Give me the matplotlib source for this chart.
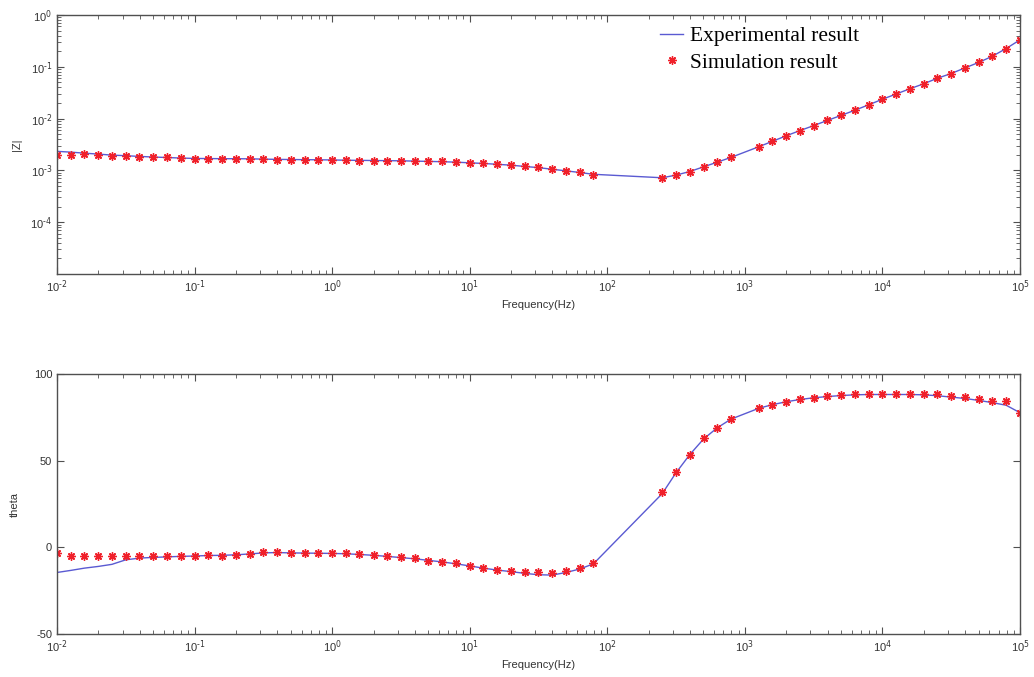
import math

import matplotlib

matplotlib.use("Agg")
import matplotlib.pyplot as plt
from matplotlib.ticker import LogLocator, NullFormatter, FixedLocator, FuncFormatter


# frequency points (Hz), 10 per decade with a few gaps
FREQ = [
    0.01, 0.0126, 0.0158, 0.02, 0.0251, 0.0316, 0.0398, 0.0501, 0.0631, 0.0794,
    0.1, 0.126, 0.158, 0.2, 0.251, 0.316, 0.398, 0.501, 0.631, 0.794,
    1, 1.26, 1.58, 2, 2.51, 3.16, 3.98, 5.01, 6.31, 7.94,
    10, 12.6, 15.8, 20, 25.1, 31.6, 39.8, 50.1, 63.1, 79.4,
    251, 316, 398, 501, 631, 794,
    1260, 1580, 2000, 2510, 3160, 3980, 5010, 6310, 7940,
    10000, 12600, 15800, 20000, 25100, 31600, 39800, 50100, 63100, 79400, 100000,
]
X_DECADES = [1e-2, 1e-1, 1e0, 1e1, 1e2, 1e3, 1e4, 1e5]
Z_DECADES = [1e-4, 1e-3, 1e-2, 1e-1, 1e0]
THETA_TICKS = [-50, 0, 50, 100]

# |Z| in units of 1e-3
Z_SIM_MILLI = [
    2.01, 1.95, 2.10, 2.01, 1.92, 1.92, 1.84, 1.78, 1.78, 1.73,
    1.68, 1.68, 1.68, 1.68, 1.68, 1.63, 1.61, 1.61, 1.61, 1.61,
    1.61, 1.57, 1.55, 1.54, 1.54, 1.53, 1.50, 1.49, 1.52, 1.43,
    1.39, 1.38, 1.32, 1.27, 1.19, 1.14, 1.04, 0.99, 0.91, 0.83,
    0.71, 0.80, 0.94, 1.17, 1.43, 1.78,
    2.82, 3.63, 4.68, 5.83, 7.29, 9.23, 11.5, 14.4, 18.5,
    23.8, 29.7, 37.7, 47.2, 60.5, 73.6, 96.6, 121, 163, 225, 325,
]
Z_EXP_MILLI = [
    2.33, 2.25, 2.15, 2.06, 1.97, 1.92, 1.86, 1.81, 1.77, 1.73,
    1.70, 1.69, 1.68, 1.68, 1.67, 1.65, 1.63, 1.62, 1.61, 1.60,
    1.59, 1.57, 1.56, 1.55, 1.54, 1.53, 1.51, 1.49, 1.47, 1.44,
    1.40, 1.36, 1.31, 1.26, 1.19, 1.13, 1.05, 0.98, 0.91, 0.84,
    0.72, 0.81, 0.95, 1.17, 1.44, 1.78,
    2.85, 3.62, 4.65, 5.85, 7.30, 9.20, 11.5, 14.5, 18.4,
    23.6, 29.8, 37.5, 47.0, 60.0, 74.0, 95.0, 121, 160, 225, 330,
]

# phase angle (deg)
THETA_SIM = [
    -3.0, -4.8, -4.8, -4.8, -4.8, -4.8, -5.2, -5.2, -5.2, -5.2,
    -4.8, -4.5, -4.8, -4.5, -3.7, -2.9, -2.9, -3.3, -3.3, -3.3,
    -3.3, -3.5, -3.9, -4.5, -5.2, -5.8, -6.4, -7.7, -8.3, -9.3,
    -10.6, -12.2, -13.1, -13.5, -14.5, -14.5, -15.0, -13.5, -12.2, -9.1,
    31.8, 43.4, 53.0, 63.3, 69.0, 73.8,
    80.4, 82.3, 83.9, 85.4, 86.2, 87.2, 87.7, 88.3, 88.3,
    88.3, 88.3, 88.3, 88.3, 88.3, 87.4, 86.8, 85.4, 84.5, 84.5, 77.7,
]
THETA_EXP = [
    -14.5, -13.3, -12.0, -11.0, -9.8, -7.2, -6.2, -5.8, -5.5, -5.2,
    -5.0, -4.7, -4.6, -4.3, -3.8, -3.2, -3.0, -3.2, -3.3, -3.4,
    -3.5, -3.7, -4.1, -4.6, -5.2, -5.9, -6.6, -7.5, -8.4, -9.5,
    -10.7, -12.0, -13.1, -14.0, -15.0, -15.8, -16.0, -14.5, -12.5, -9.5,
    31.0, 43.0, 53.5, 62.5, 69.0, 74.0,
    80.2, 82.3, 84.0, 85.3, 86.3, 87.0, 87.6, 88.0, 88.2,
    88.2, 88.2, 88.2, 88.0, 87.5, 86.7, 85.9, 84.8, 83.5, 82.0, 77.7,
]

LINE_COLOR = "#5a5ad2"
MARKER_COLOR = "#f0202a"
FRAME_COLOR = "#505050"
TEXT_COLOR = "#333333"
ASTERISK = (8, 2, 0)


def decade_label(value, pos):
    # matlab style 10^-2 with a plain hyphen
    exponent = int(round(math.log10(value)))
    return r"$10^{\text{%d}}$" % exponent


def style_axes(ax):
    for spine in ax.spines.values():
        spine.set_color(FRAME_COLOR)
        spine.set_linewidth(1.0)
    ax.tick_params(which="both", direction="in", top=True, right=True,
                   colors=FRAME_COLOR, labelcolor=TEXT_COLOR, labelsize=8)
    ax.tick_params(which="major", length=5)
    ax.tick_params(which="minor", length=3)
    ax.set_xscale("log")
    ax.set_xlim(X_DECADES[0], X_DECADES[-1])
    ax.xaxis.set_major_locator(FixedLocator(X_DECADES))
    ax.xaxis.set_major_formatter(FuncFormatter(decade_label))
    ax.xaxis.set_minor_locator(LogLocator(base=10, subs=range(2, 10), numticks=20))
    ax.xaxis.set_minor_formatter(NullFormatter())
    ax.set_xlabel("Frequency(Hz)", fontsize=8, color=TEXT_COLOR, labelpad=3)


def draw(ax, y_exp, y_sim):
    ax.plot(FREQ, y_exp, color=LINE_COLOR, linewidth=1.0,
            label="Experimental result")
    ax.plot(FREQ, y_sim, linestyle="none", marker=ASTERISK,
            markersize=6, markeredgewidth=1.0, color=MARKER_COLOR,
            label="Simulation result")


def main():
    plt.rcParams["font.family"] = ["Liberation Sans", "DejaVu Sans"]
    plt.rcParams["mathtext.default"] = "regular"
    plt.rcParams["axes.unicode_minus"] = False

    fig = plt.figure(figsize=(10.34, 6.77), dpi=100)
    ax1 = fig.add_axes([0.0551, 0.5953, 0.9313, 0.3826])
    ax2 = fig.add_axes([0.0551, 0.0635, 0.9313, 0.3840])

    # top: |Z|
    z_sim = [v * 1e-3 for v in Z_SIM_MILLI]
    z_exp = [v * 1e-3 for v in Z_EXP_MILLI]
    style_axes(ax1)
    draw(ax1, z_exp, z_sim)
    ax1.set_yscale("log")
    ax1.set_ylim(1e-5, 1e0)
    ax1.yaxis.set_major_locator(FixedLocator(Z_DECADES))
    ax1.yaxis.set_major_formatter(FuncFormatter(decade_label))
    ax1.yaxis.set_minor_locator(LogLocator(base=10, subs=range(2, 10), numticks=20))
    ax1.yaxis.set_minor_formatter(NullFormatter())
    ax1.set_ylabel("|Z|", fontsize=8, color=TEXT_COLOR, labelpad=6)
    ax1.legend(loc="upper left", bbox_to_anchor=(0.617, 0.99), frameon=False,
               prop={"family": "Liberation Serif", "size": 15.5},
               handlelength=1.1, handletextpad=0.3, labelspacing=0.3,
               borderaxespad=0.0)

    # bottom: theta
    style_axes(ax2)
    draw(ax2, THETA_EXP, THETA_SIM)
    ax2.set_ylim(THETA_TICKS[0], THETA_TICKS[-1])
    ax2.set_yticks(THETA_TICKS)
    ax2.set_ylabel("theta", fontsize=8, color=TEXT_COLOR, labelpad=10)

    fig.savefig("out.png", dpi=100)
    plt.close(fig)


if __name__ == "__main__":
    main()
